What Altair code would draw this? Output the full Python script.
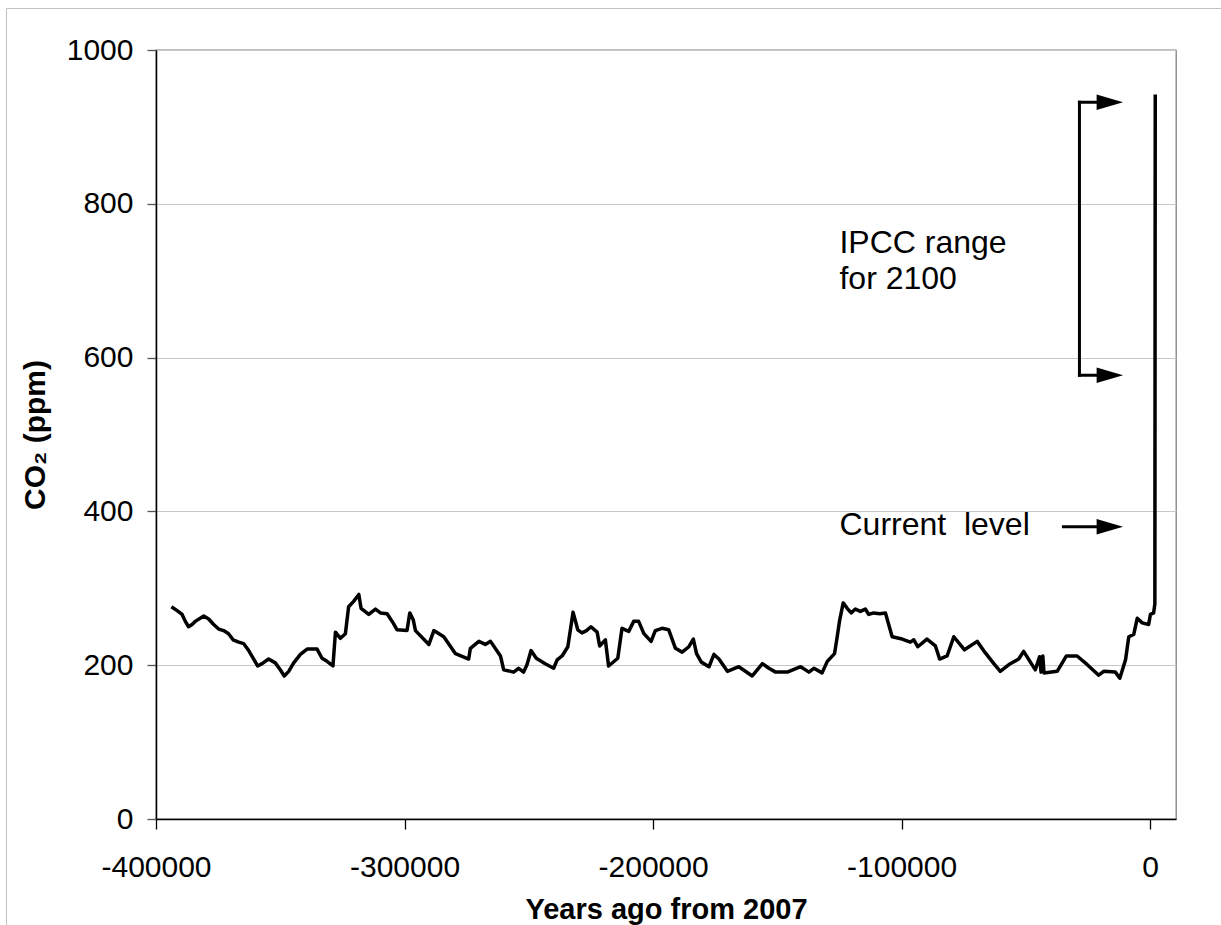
import altair as alt
import pandas as pd

# ---- data (years relative to 2007, CO2 in ppm) ----
years = [
    -393800, -391500, -389500, -388200, -386900, -385500, -384200, -380800, -378800, -376800,
    -374800, -372800, -370800, -369000, -366700, -364700, -362700, -360700, -359100, -357300,
    -354700, -352000, -350000, -348400, -346600, -344600, -341900, -339200, -335200, -333200,
    -331200, -328800, -327800, -325800, -323800, -322500, -320500, -318400, -317500, -314400,
    -311700, -309700, -307000, -304600, -303000, -299000, -297900, -296500, -295600, -290200,
    -288200, -284200, -279500, -274200, -273500, -270100, -267500, -265400, -261400,
    -260100, -256100, -254100, -252100, -250700, -249100, -247000, -243400, -240000, -238600,
    -236600, -234300, -232200, -230300, -228600, -226800, -225000, -222500, -221500, -219200,
    -217900, -214200, -212500, -209800, -207800, -205800, -203700, -200800, -199100, -196400,
    -193700, -191000, -188300, -185600, -183800, -182500, -180600, -177500, -175500, -173500,
    -170100, -165500, -160100, -156000, -153400, -150700, -146000, -140600, -137300, -135300,
    -132000, -129900, -127000, -126100, -124900, -123500,
    -121900, -120300, -118600, -116600, -114600, -113200, -111200, -108800, -106500, -105200,
    -103800, -99800, -96500, -95100, -93500, -89800, -86400, -84700, -81700, -79000,
    -74700, -69600, -66300, -62900, -60300, -56300, -52900, -50900, -46200, -44500,
    -43900, -43200, -42700, -37400, -33700, -29400, -25400, -20700, -18700, -14000,
    -12200, -9900, -8600, -6600, -5200, -3200, -600, 100, 1400, 1900, 2050,
]
co2 = [
    276, 271, 266, 257, 250, 253, 257, 264, 260, 253,
    247, 245, 241, 233, 230, 228, 219, 208, 199, 202,
    208, 203, 194, 186, 192, 203, 214, 221, 221, 209,
    205, 199, 243, 235, 241, 276, 283, 292, 274, 266,
    273, 268, 267, 255, 246, 245, 268, 259, 245, 227,
    245, 237, 215, 208, 222, 231, 227, 231, 212,
    194, 191, 196, 191, 201, 219, 209, 202, 196, 207,
    212, 224, 269, 246, 242, 245, 250, 243, 225, 233,
    199, 209, 248, 244, 257, 257, 241, 231, 245, 248,
    246, 222, 217, 224, 234, 215, 204, 198, 214, 208,
    192, 198, 186, 202, 196, 191, 191, 198, 191, 196,
    190, 205, 215, 233, 259, 281,
    274, 268, 273, 270, 273, 266, 268, 267, 268, 253,
    237, 234, 230, 233, 224, 234, 225, 208, 212, 237,
    220, 231, 216, 202, 192, 202, 208, 218, 194, 211,
    191, 212, 190, 192, 212, 212, 201, 187, 192, 191,
    183, 207, 237, 240, 261, 255, 253, 266, 268, 280, 942,
]

x_ticks = [-400000, -300000, -200000, -100000, 0]
y_ticks = [0, 200, 400, 600, 800, 1000]

# annotation values (data coordinates)
ipcc_bracket_x = -28450
arrow_tip_x = -10900
arrow_shaft_end = -17000
ipcc_high = 932
ipcc_low = 577
current_start_x = -34900
current_level = 380

label_text = ["IPCC range", "for 2100", "Current\u00a0 level"]
label_x = [-125000, -125000, -125000]
label_y = [736, 689, 369]

FONT = "Liberation Sans"

df = pd.DataFrame({"year": years, "co2": co2, "idx": list(range(len(years)))})

xs = alt.Scale(domain=[-400000, 10400], nice=False, zero=False)
ys = alt.Scale(domain=[0, 1000], nice=False)

x_axis = alt.Axis(
    values=x_ticks, title="Years ago from 2007", grid=False,
    labelExpr="datum.value == 0 ? '0' : '-' + format(abs(datum.value), 'd')",
    tickSize=10, tickColor="black", tickWidth=1.3,
    domainColor="black", domainWidth=1.5,
    labelFont=FONT, labelFontSize=30, labelColor="black", labelPadding=23,
    labelFlush=False, labelOverlap=False,
    titleFont=FONT, titleFontSize=29, titleFontWeight="bold", titleColor="black",
    titleY=99, titleBaseline="alphabetic",
)
y_axis = alt.Axis(
    values=y_ticks, title="CO\u2082 (ppm)", grid=True, gridColor="#c8c8c8", gridWidth=1,
    format="d", tickSize=9, tickColor="#555555", tickWidth=1.3,
    domainColor="black", domainWidth=1.5,
    labelFont=FONT, labelFontSize=30, labelColor="black", labelPadding=14,
    labelFlush=False, labelOverlap=False,
    titleFont=FONT, titleFontSize=30, titleFontWeight="bold", titleColor="black",
    titleX=-112, titleBaseline="alphabetic", titleAngle=270,
)


def X(field):
    return alt.X(field, scale=xs, axis=x_axis, title="Years ago from 2007")


def Y(field):
    return alt.Y(field, scale=ys, axis=y_axis, title="CO\u2082 (ppm)")


line = alt.Chart(df).mark_line(color="black", strokeWidth=3.5, strokeJoin="round").encode(
    x=X("year:Q"), y=Y("co2:Q"), order="idx:Q",
)

# IPCC bracket
bracket_v = alt.Chart(pd.DataFrame({"year": [ipcc_bracket_x], "co2": [ipcc_low], "co2_end": [ipcc_high]})).mark_rule(
    color="black", strokeWidth=3, strokeCap="square"
).encode(x=X("year:Q"), y=Y("co2:Q"), y2=alt.Y2("co2_end:Q", title=None))

shafts = alt.Chart(pd.DataFrame({
    "year": [ipcc_bracket_x, ipcc_bracket_x, current_start_x],
    "year_end": [arrow_shaft_end] * 3,
    "co2": [ipcc_high, ipcc_low, current_level],
})).mark_rule(color="black", strokeWidth=3, strokeCap="square").encode(
    x=X("year:Q"), x2=alt.X2("year_end:Q", title=None), y=Y("co2:Q")
)

heads = alt.Chart(pd.DataFrame({
    "year": [arrow_tip_x] * 3,
    "co2": [ipcc_high, ipcc_low, current_level],
})).mark_point(
    shape="M-2,-0.59 L0,0 L-2,0.59 Z", size=700, filled=True, color="black", opacity=1, strokeWidth=0
).encode(x=X("year:Q"), y=Y("co2:Q"))

labels = alt.Chart(pd.DataFrame({"t": label_text, "year": label_x, "co2": label_y})).mark_text(
    align="left", baseline="alphabetic", font=FONT, fontSize=32, color="black"
).encode(x=X("year:Q"), y=Y("co2:Q"), text="t:N")

# thin outer frame of the original picture
frame_df = pd.DataFrame({"k": [0]})
frame_left = alt.Chart(frame_df).mark_rule(color="#c0c0c0", strokeWidth=1).encode(
    x=alt.value(-149.5), y=alt.value(-41.5), y2=alt.value(900)
)
frame_top = alt.Chart(frame_df).mark_rule(color="#c0c0c0", strokeWidth=1).encode(
    y=alt.value(-41.5), x=alt.value(-149.5), x2=alt.value(1100)
)

chart = alt.layer(
    line, bracket_v, shafts, heads, labels, frame_left, frame_top
).properties(
    width=1020, height=769,
    autosize=alt.AutoSizeParams(type="none"),
    padding={"left": 156, "top": 50, "right": 45, "bottom": 106},
    background="white",
).configure_view(stroke="#808080", strokeWidth=1.3)

chart.save("out.html", embed_options={"renderer": "svg", "actions": False})
